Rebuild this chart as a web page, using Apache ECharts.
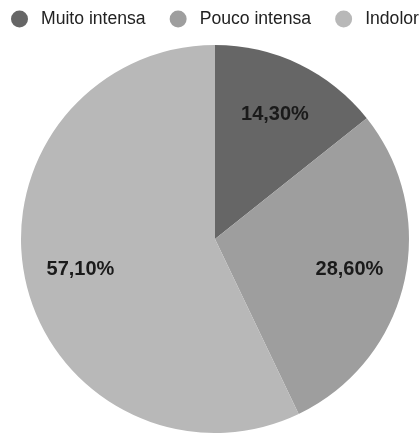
<!DOCTYPE html>
<html>
<head>
<meta charset="utf-8">
<script src="https://cdn.jsdelivr.net/npm/echarts@6/dist/echarts.min.js"></script>
<style>
  html, body { margin: 0; padding: 0; background: #fff; }
  #chart { width: 419px; height: 433px; }
</style>
</head>
<body>
<div id="chart"></div>
<script>
// Pain intensity shares
const categories = ['Muito intensa', 'Pouco intensa', 'Indolor'];
const shares = [14.3, 28.6, 57.1];
const sliceColors = ['#666666', '#9e9e9e', '#b8b8b8'];

const pieData = categories.map((name, i) => ({ name, value: shares[i] }));
const fmt = p => p.value.toFixed(2).replace('.', ',') + '%';

const chart = echarts.init(document.getElementById('chart'), null, { renderer: 'canvas' });
chart.setOption({
  animation: false,
  color: sliceColors,
  legend: {
    left: 6,
    top: 5,
    width: 900,
    icon: 'circle',
    itemWidth: 17,
    itemHeight: 17,
    itemGap: 24,
    textStyle: {
      fontFamily: 'Liberation Sans, Arial, sans-serif',
      fontSize: 17.6,
      color: '#222',
      padding: [0, 0, 0, 8]
    },
    data: categories
  },
  series: [
    {
      type: 'pie',
      center: [215, 239],
      radius: [0, 194],
      startAngle: 90,
      clockwise: true,
      silent: true,
      label: { show: false },
      labelLine: { show: false },
      data: pieData
    },
    {
      // transparent ring that carries the percentage labels
      type: 'pie',
      center: [215, 239],
      radius: [76, 194],
      startAngle: 90,
      clockwise: true,
      silent: true,
      legendHoverLink: false,
      itemStyle: { color: 'rgba(0,0,0,0)' },
      label: {
        show: true,
        position: 'inside',
        formatter: fmt,
        fontFamily: 'Liberation Sans, Arial, sans-serif',
        fontWeight: 'bold',
        fontSize: 20,
        color: '#1a1a1a'
      },
      labelLine: { show: false },
      data: pieData
    }
  ]
});
</script>
</body>
</html>
